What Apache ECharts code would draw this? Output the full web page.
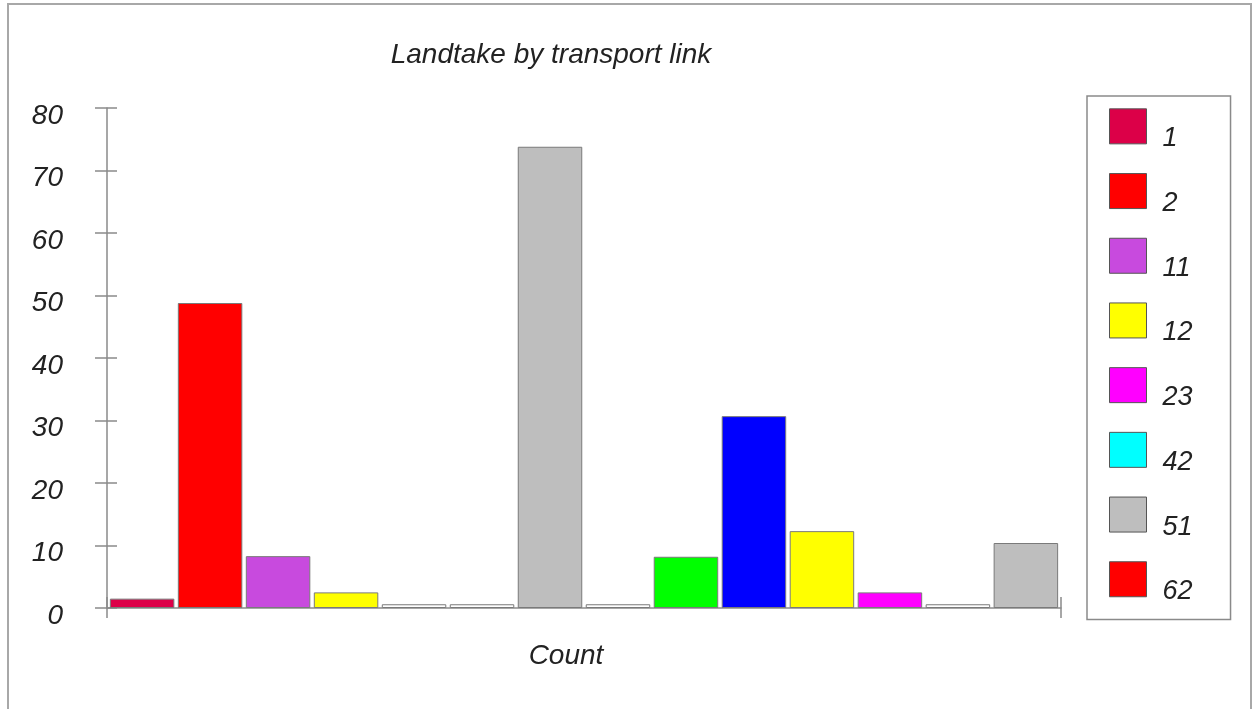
<!DOCTYPE html>
<html>
<head>
<meta charset="utf-8">
<script src="https://cdn.jsdelivr.net/npm/echarts@6/dist/echarts.min.js"></script>
<style>
html,body{margin:0;padding:0;background:#fff;}
#chart{width:1253px;height:709px;}
</style>
</head>
<body>
<div id="chart"></div>
<script>
// ---- data ----
var titleText = 'Landtake by transport link';
var categories = ['Count'];
var yTicks = [0, 80, 10]; // min, max, interval
var barValues = [1.5, 48.8, 8.3, 2.5, 0.6, 0.6, 73.8, 0.6, 8.2, 30.7, 12.3, 2.5, 0.6, 10.4];
var barColors = ['#dc0048', '#ff0000', '#c84ade', '#ffff00', '#ffffff', '#ffffff', '#bebebe',
                 '#ffffff', '#00ff00', '#0000ff', '#ffff00', '#ff00ff', '#ffffff', '#bebebe'];
var legendNames = ['1', '2', '11', '12', '23', '42', '51', '62'];
var legendColors = ['#dc0048', '#ff0000', '#c84ade', '#ffff00', '#ff00ff', '#00ffff', '#bebebe', '#ff0000'];

// ---- build ----
var FONT = 'Arial, "Liberation Sans", sans-serif';
var TXT = '#222222';
var AXIS = '#8a8a8a';

var series = barValues.map(function (v, i) {
  return {
    type: 'bar',
    name: i < legendNames.length ? legendNames[i] : undefined,
    data: [v],
    barWidth: 64.5,
    barGap: '5.4%',
    itemStyle: { color: barColors[i], borderColor: '#7a7a7a', borderWidth: 1 },
    emphasis: { disabled: true },
    xAxisIndex: 0,
    yAxisIndex: 0
  };
});

var chart = echarts.init(document.getElementById('chart'), null, { renderer: 'canvas' });
chart.setOption({
  animation: false,
  backgroundColor: '#ffffff',
  title: {
    text: titleText,
    left: 546,
    textAlign: 'center',
    top: 36,
    textStyle: { fontFamily: FONT, fontSize: 28, fontStyle: 'italic', fontWeight: 'normal', color: TXT }
  },
  graphic: [{
    type: 'rect',
    shape: { x: 8, y: 4, width: 1243, height: 730 },
    style: { fill: 'none', stroke: '#a8a8a8', lineWidth: 2 },
    silent: true,
    z: -10
  }],
  legend: {
    orient: 'vertical',
    left: 1087,
    top: 96,
    padding: [4.35, 38, 14.35, 22],
    itemWidth: 37,
    itemHeight: 35,
    itemGap: 12.7,
    icon: 'rect',
    backgroundColor: '#ffffff',
    borderColor: '#8a8a8a',
    borderWidth: 1.5,
    borderRadius: 0,
    selectedMode: false,
    itemStyle: { borderColor: '#555555', borderWidth: 1 },
    formatter: function (name) { return '\n' + name; },
    textStyle: { fontFamily: FONT, fontSize: 27, fontStyle: 'italic', color: TXT, lineHeight: 25, padding: [0, 0, 0, 11] },
    data: legendNames.map(function (n, i) {
      return { name: n, itemStyle: { color: legendColors[i], borderColor: '#555555', borderWidth: 1 } };
    })
  },
  grid: {
    left: 107,
    right: 1253 - 1061,
    top: 108,
    bottom: 709 - 608,
    containLabel: false,
    outerBoundsMode: 'none'
  },
  xAxis: [{
    type: 'category',
    data: categories,
    position: 'bottom',
    axisLine: { show: true, lineStyle: { color: AXIS, width: 1.5 } },
    axisTick: { show: true, inside: false, length: 10, lineStyle: { color: AXIS, width: 1.5 } },
    axisLabel: { show: true, margin: 34, fontFamily: FONT, fontSize: 28, fontStyle: 'italic', color: TXT, padding: [0, 36, 0, 0] },
    splitLine: { show: false }
  }, {
    type: 'category',
    data: categories,
    position: 'bottom',
    axisLine: { show: false },
    axisTick: { show: true, inside: true, length: 11, lineStyle: { color: AXIS, width: 1.5 } },
    axisLabel: { show: false },
    splitLine: { show: false }
  }],
  yAxis: [{
    type: 'value',
    position: 'left',
    min: yTicks[0],
    max: yTicks[1],
    interval: yTicks[2],
    axisLine: { show: true, lineStyle: { color: AXIS, width: 1.5 } },
    axisTick: { show: true, inside: false, length: 12, lineStyle: { color: AXIS, width: 1.5 } },
    axisLabel: { margin: 44, fontFamily: FONT, fontSize: 28, fontStyle: 'italic', color: TXT, verticalAlign: 'top', lineHeight: 16 },
    splitLine: { show: false }
  }, {
    type: 'value',
    position: 'left',
    min: yTicks[0],
    max: yTicks[1],
    interval: yTicks[2],
    axisLine: { show: false },
    axisTick: { show: true, inside: true, length: 10, lineStyle: { color: AXIS, width: 1.5 } },
    axisLabel: { show: false },
    splitLine: { show: false }
  }],
  series: series
});
</script>
</body>
</html>
